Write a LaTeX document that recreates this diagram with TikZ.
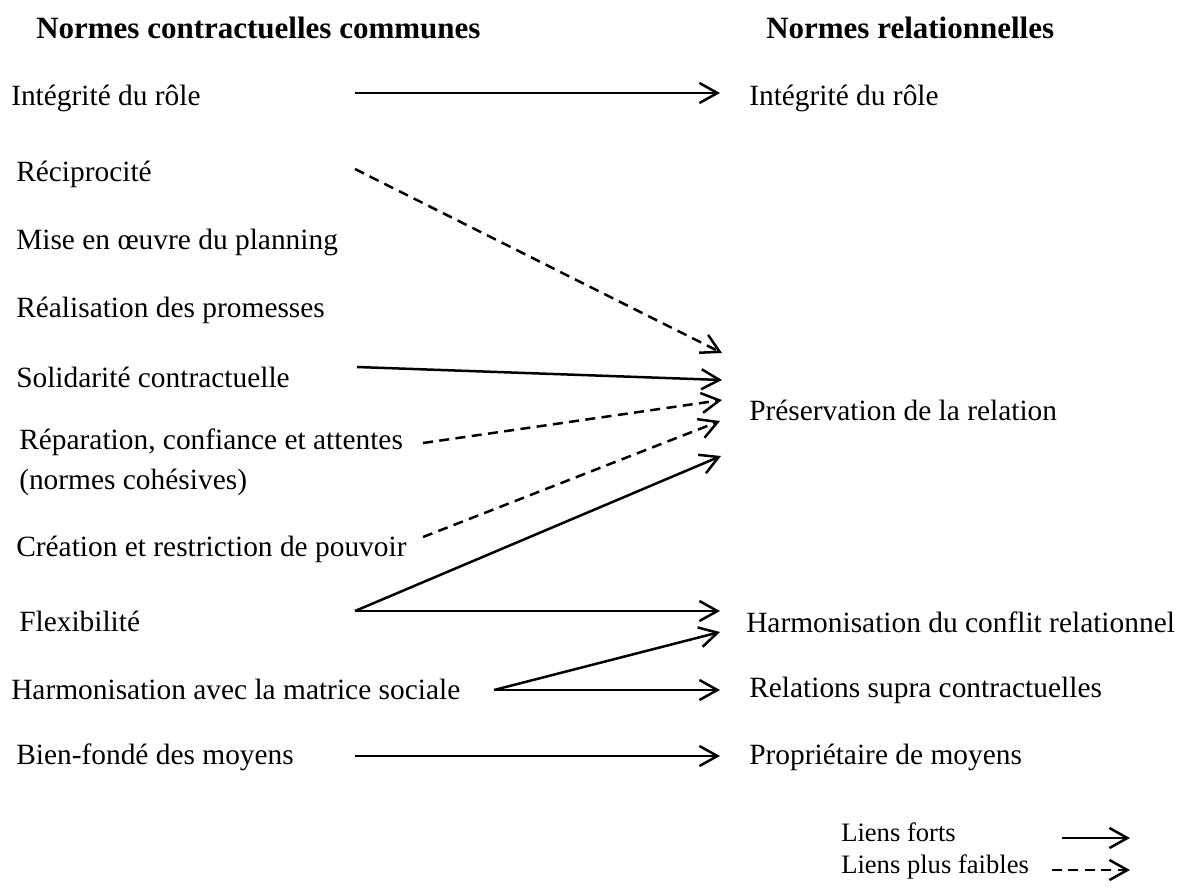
\documentclass[tikz,border=0pt]{standalone}
\usepackage{fontspec}
\setmainfont{Liberation Serif}
\usetikzlibrary{arrows.meta}

\begin{document}
\begin{tikzpicture}[x=0.5pt, y=-0.5pt, line width=1.25pt,
    item/.style={anchor=west, inner sep=0pt, font=\fontsize{14.7}{17}\selectfont},
    titre/.style={anchor=west, inner sep=0pt, font=\fontsize{15.5}{18}\selectfont\bfseries},
    legende/.style={anchor=west, inner sep=0pt, font=\fontsize{13.3}{16}\selectfont},
    fort/.style={-{Straight Barb[length=9pt, width=10pt]}},
    faible/.style={fort, dash pattern=on 5pt off 3.2pt}]
    % cadre
    \useasboundingbox (0,0) rectangle (1181,889);

    % titres
    \node[titre] (tg) at (35,28) {Normes contractuelles communes};
    \node[titre] (td) at (765,28) {Normes relationnelles};

    % normes contractuelles communes
    \node[item] (g1) at (10,98) {Intégrité du rôle};
    \node[item] (g2) at (15,174) {Réciprocité};
    \node[item] (g3) at (15,242) {Mise en œuvre du planning};
    \node[item] (g4) at (15,310) {Réalisation des promesses};
    \node[item] (g5) at (15,377) {Solidarité contractuelle};
    \node[item, align=left] (g6) at (18,462) {Réparation, confiance et attentes\\[3pt](normes cohésives)};
    \node[item] (g7) at (15,549) {Création et restriction de pouvoir};
    \node[item] (g8) at (18,621) {Flexibilité};
    \node[item] (g9) at (10,689) {Harmonisation avec la matrice sociale};
    \node[item] (g10) at (15,757) {Bien-fondé des moyens};

    % normes relationnelles
    \node[item] (d1) at (748,98) {Intégrité du rôle};
    \node[item] (d2) at (748,410) {Préservation de la relation};
    \node[item] (d3) at (745,622) {Harmonisation du conflit relationnel};
    \node[item] (d4) at (748,690) {Relations supra contractuelles};
    \node[item] (d5) at (748,757) {Propriétaire de moyens};

    % départs et arrivées
    \coordinate (s1) at (355,93);   \coordinate (e1) at (720,93);
    \coordinate (s2) at (355,169);  \coordinate (e2) at (722,353);
    \coordinate (s5) at (357,367);  \coordinate (e5) at (722,380);
    \coordinate (s6) at (423,443);  \coordinate (e6) at (722,400);
    \coordinate (s7) at (423,537);  \coordinate (e7) at (720,421);
    \coordinate (s8) at (355,611);  \coordinate (e8) at (721,456);
    \coordinate (e8b) at (720,611);
    \coordinate (s9) at (494,690);  \coordinate (e9) at (720,632);
    \coordinate (e9b) at (720,690);
    \coordinate (s10) at (355,756); \coordinate (e10) at (720,756);

    % liens
    \draw[fort] (s1) -- (e1);
    \draw[faible] (s2) -- (e2);
    \draw[fort] (s5) -- (e5);
    \draw[faible] (s6) -- (e6);
    \draw[faible] (s7) -- (e7);
    \draw[fort] (s8) -- (e8);
    \draw[fort] (s8) -- (e8b);
    \draw[fort] (s9) -- (e9);
    \draw[fort] (s9) -- (e9b);
    \draw[fort] (s10) -- (e10);

    % légende
    \node[legende] (lf) at (840,832) {Liens forts};
    \node[legende] (lp) at (840,867) {Liens plus faibles};
    \coordinate (lf1) at (1062,838); \coordinate (lf2) at (1130,838);
    \coordinate (lp1) at (1052,870); \coordinate (lp2) at (1130,870);
    \draw[fort] (lf1) -- (lf2);
    \draw[faible] (lp1) -- (lp2);
\end{tikzpicture}
\end{document}
